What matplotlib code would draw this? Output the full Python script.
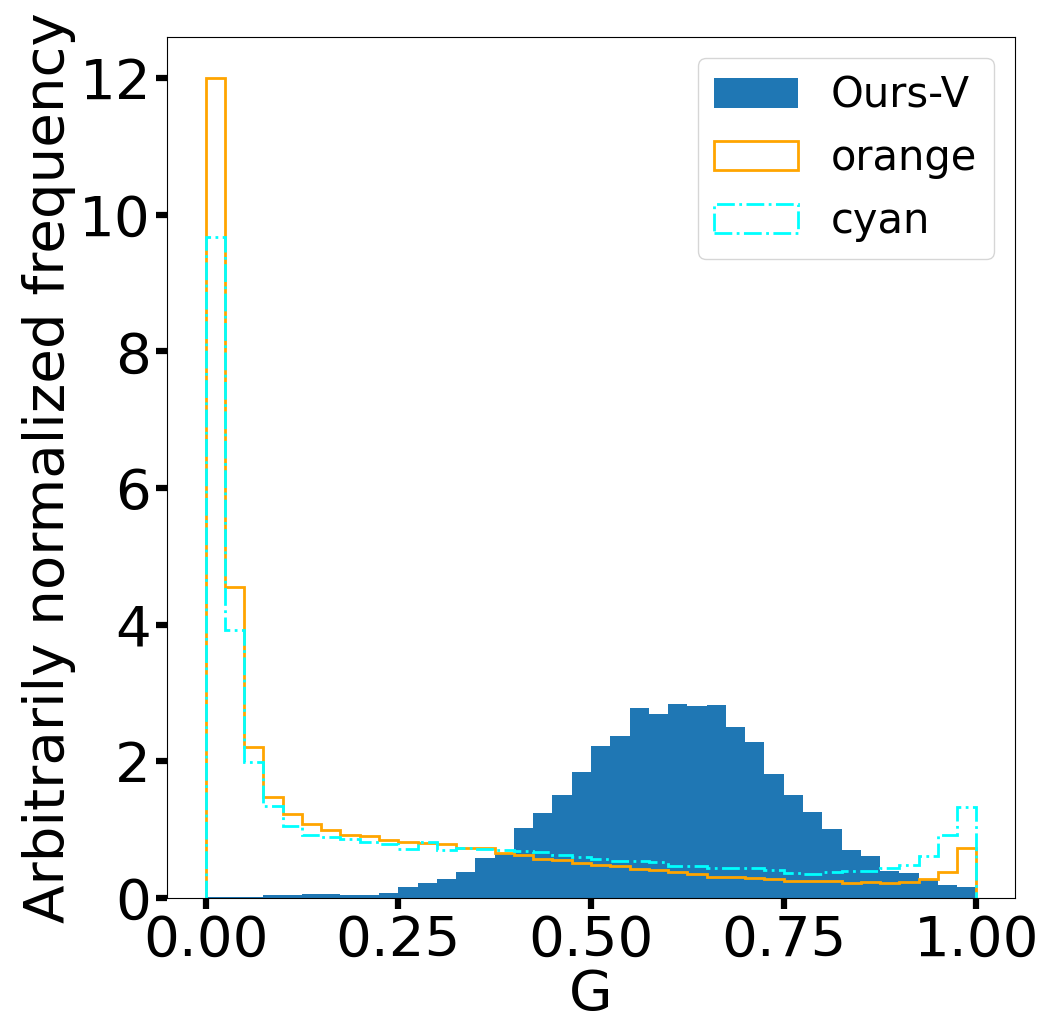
import numpy as np
import matplotlib
matplotlib.use("Agg")
import matplotlib.pyplot as plt

bin_edges = np.linspace(0, 1, 41)

ours_v = [0.01, 0.01, 0.02, 0.04, 0.045, 0.06, 0.06, 0.045, 0.045, 0.08,
          0.16, 0.22, 0.28, 0.38, 0.59, 0.64, 1.03, 1.25, 1.51, 1.84,
          2.22, 2.37, 2.78, 2.69, 2.835, 2.81, 2.825, 2.50, 2.28, 1.81,
          1.51, 1.26, 1.01, 0.705, 0.617, 0.40, 0.37, 0.27, 0.195, 0.16]

orange_vals = [12.0, 4.55, 2.21, 1.48, 1.23, 1.08, 1.0, 0.925, 0.905, 0.85,
               0.82, 0.80, 0.79, 0.725, 0.725, 0.66, 0.63, 0.57, 0.55, 0.51,
               0.48, 0.465, 0.425, 0.41, 0.38, 0.35, 0.31, 0.31, 0.30, 0.28,
               0.245, 0.245, 0.245, 0.225, 0.235, 0.215, 0.235, 0.275, 0.38, 0.73]

cyan_vals = [9.67, 3.92, 1.99, 1.34, 1.06, 0.925, 0.89, 0.87, 0.82, 0.79,
             0.72, 0.82, 0.705, 0.73, 0.72, 0.705, 0.685, 0.68, 0.63, 0.60,
             0.57, 0.535, 0.535, 0.52, 0.47, 0.47, 0.445, 0.445, 0.435, 0.41,
             0.37, 0.35, 0.38, 0.40, 0.40, 0.435, 0.485, 0.62, 0.925, 1.33]

labels = ["Ours-V", "orange", "cyan"]
x_ticks = [0.0, 0.25, 0.5, 0.75, 1.0]
x_tick_labels = ["0.00", "0.25", "0.50", "0.75", "1.00"]
y_ticks = [0, 2, 4, 6, 8, 10, 12]

centers = (bin_edges[:-1] + bin_edges[1:]) / 2

fig = plt.figure(figsize=(10.41, 10.21), dpi=100)
ax = fig.add_axes([167/1041, 1 - 898/1021, (1015-167)/1041, (898-37)/1021])

ax.hist(centers, bins=bin_edges, weights=ours_v, color="#1f77b4", label=labels[0])
ax.hist(centers, bins=bin_edges, weights=orange_vals, histtype="step",
        color="orange", linewidth=2, label=labels[1])
ax.hist(centers, bins=bin_edges, weights=cyan_vals, histtype="step",
        color="cyan", linewidth=2, linestyle="-.", label=labels[2])

ax.set_xticks(x_ticks)
ax.set_xticklabels(x_tick_labels)
ax.set_yticks(y_ticks)
ax.tick_params(axis="both", labelsize=40.5, width=4.5, length=8)
ax.set_xlabel("G", fontsize=40.5, labelpad=0)
ax.set_ylabel("Arbitrarily normalized frequency", fontsize=40.5, labelpad=2)
ax.legend(loc="upper right", fontsize=30)

fig.savefig("out.png", dpi=100)
